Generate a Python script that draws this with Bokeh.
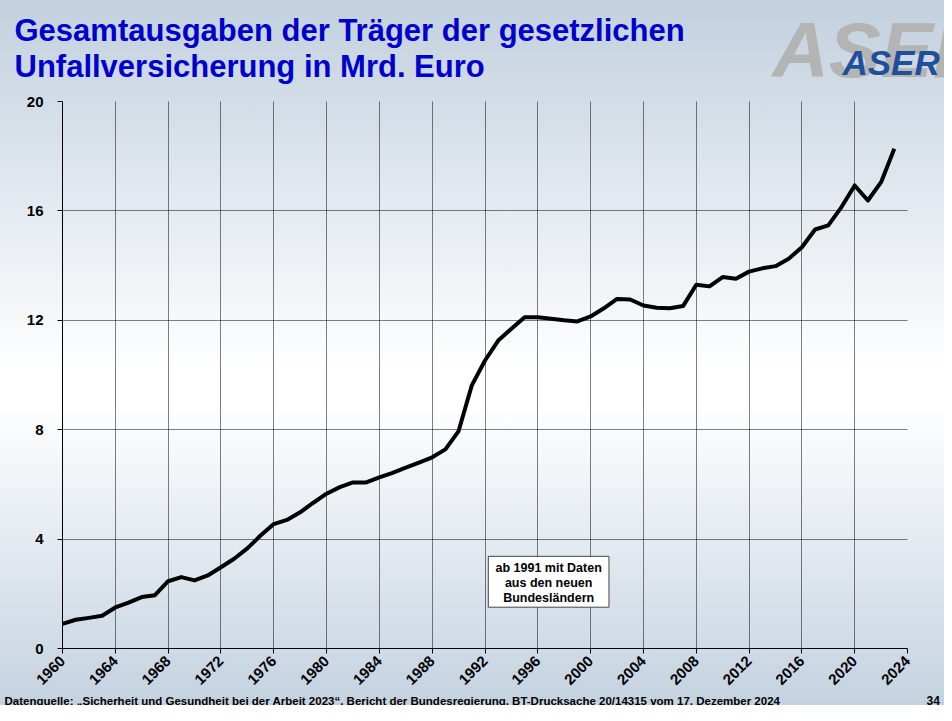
from bokeh.plotting import figure
from bokeh.layouts import column
from bokeh.models import InlineStyleSheet, FixedTicker, Range1d
from bokeh.embed import file_html
from bokeh.resources import INLINE
from bokeh.core.properties import value
import math

# ---- data ----
years = list(range(1960, 2024))
ausgaben = [
    0.90, 1.05, 1.12, 1.20, 1.50, 1.68, 1.88, 1.95, 2.46, 2.61,   # 1960-1969
    2.49, 2.67, 2.97, 3.28, 3.66, 4.13, 4.55, 4.70, 4.98, 5.33,   # 1970-1979
    5.66, 5.90, 6.07, 6.07, 6.26, 6.42, 6.61, 6.80, 6.99, 7.28,   # 1980-1989
    7.95, 9.62, 10.53, 11.26, 11.69, 12.11, 12.11, 12.06, 12.00, 11.96,  # 1990-1999
    12.14, 12.44, 12.78, 12.76, 12.54, 12.46, 12.44, 12.52, 13.30, 13.24,  # 2000-2009
    13.58, 13.52, 13.78, 13.90, 13.98, 14.25, 14.67, 15.32, 15.47, 16.14,  # 2010-2019
    16.93, 16.38, 17.05, 18.27,                                          # 2020-2023
]
x_ticks = list(range(1960, 2025, 4))
y_ticks = [0, 4, 8, 12, 16, 20]

title_lines = ["Gesamtausgaben der Träger der gesetzlichen",
               "Unfallversicherung in Mrd. Euro"]
note_lines = ["ab 1991 mit Daten", "aus den neuen", "Bundesländern"]
source_text = ("Datenquelle: \u201eSicherheit und Gesundheit bei der Arbeit 2023\u201c, "
               "Bericht der Bundesregierung, BT-Drucksache 20/14315 vom 17. Dezember 2024")
logo_text = "ASER"
page_no = "34"

FONT = "Liberation Sans"
W = 944
H_HEAD, H_MAIN, H_FOOT = 85, 609, 11
H_ALL = H_HEAD + H_MAIN + H_FOOT


def bg(offset):
    css = (":host { background: linear-gradient(to bottom, #c2d0de 0%, #ffffff 53%, "
           "#ffffff 57%, #c4d2e0 100%); "
           f"background-size: 100% {H_ALL}px; background-position: 0 -{offset}px; "
           "background-repeat: no-repeat; }")
    return [InlineStyleSheet(css=css)]


def no_align(f):
    try:
        f.frame_align = False
    except Exception:
        pass


def blank_fig(h, offset):
    f = figure(width=W, height=h, output_backend="svg", toolbar_location=None,
               x_range=Range1d(0, W), y_range=Range1d(0, h),
               x_axis_type=None, y_axis_type=None,
               min_border=0, min_border_left=0, min_border_right=0,
               min_border_top=0, min_border_bottom=0)
    f.border_fill_color = None
    f.background_fill_color = None
    f.outline_line_color = None
    f.xgrid.visible = False
    f.ygrid.visible = False
    f.stylesheets = bg(offset)
    no_align(f)
    return f


def htext(f, x, y_from_top, texts, size, color, style="bold"):
    # y given as pixel row (vertical middle of the text) from the top of figure f
    f.text(x=x, y=[f.height - v for v in y_from_top], text=texts, text_font=value(FONT),
           text_font_style=style, text_font_size=size, text_color=color,
           text_baseline="middle", text_align="left")


# ---- header (title + logo) ----
head = blank_fig(H_HEAD, 0)
htext(head, [772], [49.5], [logo_text], "78px", "#b4b4b4", "bold italic")
htext(head, [842], [62], [logo_text], "35px", "#1f4e9a", "bold italic")
htext(head, [14, 14], [29.5, 65.5], title_lines, "31px", "#0000cc")

# ---- main chart ----
p = figure(width=W, height=H_MAIN, output_backend="svg", toolbar_location=None,
           x_range=Range1d(1960, 2024), y_range=Range1d(0, 20),
           min_border_left=62, min_border_right=37, min_border_top=16, min_border_bottom=46)
p.border_fill_color = None
p.background_fill_color = None
p.outline_line_color = None
p.stylesheets = bg(H_HEAD)
no_align(p)

for ax in (p.xaxis[0], p.yaxis[0]):
    ax.axis_line_color = "black"
    ax.axis_line_width = 1
    ax.major_tick_line_color = "black"
    ax.major_tick_in = 0
    ax.major_tick_out = 5
    ax.minor_tick_line_color = None
    ax.major_label_text_font = FONT
    ax.major_label_text_font_style = "bold"
    ax.major_label_text_color = "black"
p.xaxis.ticker = FixedTicker(ticks=x_ticks)
p.yaxis.ticker = FixedTicker(ticks=y_ticks)
p.xaxis.major_label_orientation = math.pi / 4
p.xaxis.major_label_text_font_size = "15px"
p.xaxis.major_label_standoff = 5
p.yaxis.major_label_text_font_size = "15px"
p.yaxis.major_label_standoff = 14

for g in (p.xgrid[0], p.ygrid[0]):
    g.grid_line_color = "black"
    g.grid_line_dash = "1 1"
    g.grid_line_width = 1

p.line(years, ausgaben, line_color="black", line_width=4, line_join="round")

note_x = 1996.82
p.rect(x=[note_x], y=[2.44], width=9.14, height=1.86, fill_color="white",
       line_color="#444444", line_width=1)
p.text(x=[note_x] * 3, y=[2.93, 2.40, 1.86], text=note_lines,
       text_font=value(FONT), text_font_style="bold", text_font_size="12.5px",
       text_align="center", text_baseline="middle", text_color="black")

# ---- footer ----
foot = blank_fig(H_FOOT, H_HEAD + H_MAIN)
htext(foot, [4], [5.2], [source_text], "11.5px", "black")
htext(foot, [926], [5.2], [page_no], "12px", "black")

layout = column(head, p, foot, spacing=0)
open("out.html", "w").write(file_html(layout, INLINE))
